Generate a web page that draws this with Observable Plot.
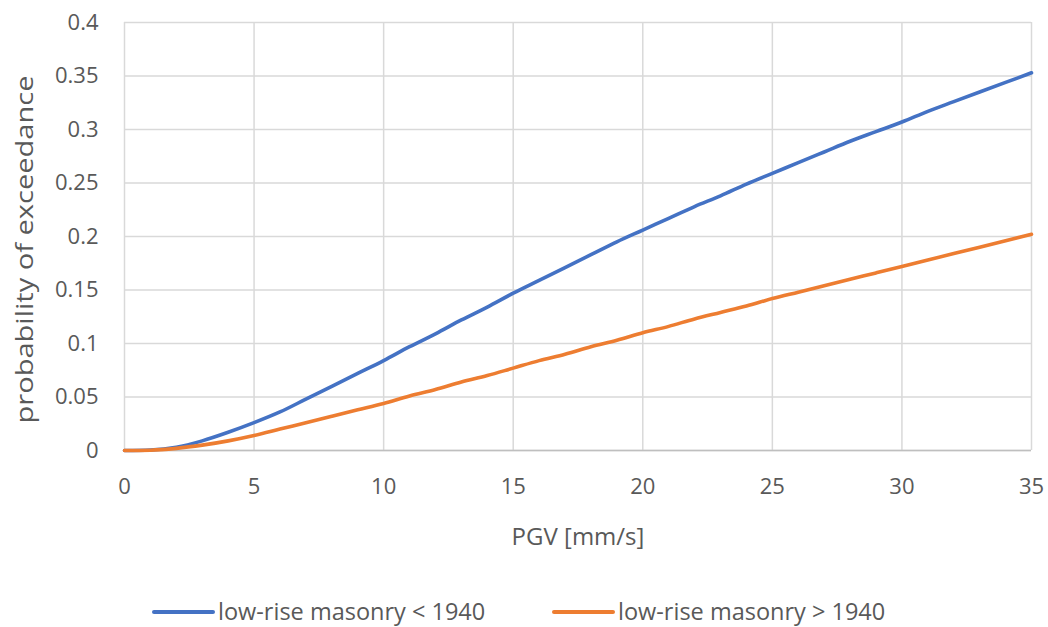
<!DOCTYPE html>
<html>
<head>
<meta charset="utf-8">
<script src="https://cdn.jsdelivr.net/npm/d3@7"></script>
<script src="https://cdn.jsdelivr.net/npm/@observablehq/plot@0.6"></script>
<style>
  body { margin: 0; background: #fff; overflow: hidden; }
  #chart { width: 1048px; }
  #chart svg g[aria-label="x-axis tick label"] text,
  #chart svg g[aria-label="y-axis tick label"] text { font-size: 22px !important; }
  #chart svg g[aria-label="x-axis tick label"],
  #chart svg g[aria-label="y-axis tick label"] { font-size: 22px !important; }
  #chart svg g[aria-label="x-axis label"],
  #chart svg g[aria-label="y-axis label"] { font-size: 24px !important; }
  .legend { position: relative; width: 1048px; height: 47px;
    font-family: "Open Sans", sans-serif; font-size: 23.5px; line-height: 24px; color: #595959; }
  .legend .item { position: absolute; top: 31px; transform: translateY(-50%); display: flex; align-items: center; white-space: nowrap; height: 24px; }
  .legend .sw { display: inline-block; width: 63px; height: 4.5px; border-radius: 2.5px; margin-right: 3px; margin-top: 2px; }
</style>
</head>
<body>
<div id="chart"></div>
<script>
const pgv = [0,1,2,3,4,5,6,7,8,9,10,11,12,13,14,15,16,17,18,19,20,21,22,23,24,25,26,27,28,29,30,31,32,33,34,35];
const pre1940 = [0,0.0005,0.003,0.009,0.017,0.026,0.036,0.048,0.060,0.072,0.084,0.097,0.109,0.122,0.134,0.147,0.159,0.171,0.183,0.195,0.206,0.217,0.228,0.238,0.249,0.259,0.269,0.279,0.289,0.298,0.307,0.317,0.326,0.335,0.344,0.353];
const post1940 = [0,0.0003,0.002,0.005,0.009,0.014,0.020,0.026,0.032,0.038,0.044,0.051,0.057,0.064,0.070,0.077,0.084,0.090,0.097,0.103,0.110,0.116,0.123,0.129,0.135,0.142,0.148,0.154,0.160,0.166,0.172,0.178,0.184,0.190,0.196,0.202];
const seriesNames = ["low-rise masonry < 1940", "low-rise masonry > 1940"];
const seriesColors = ["#4472c4", "#ed7d31"];
const xTicks = [0,5,10,15,20,25,30,35];
const yTicks = [0,0.05,0.1,0.15,0.2,0.25,0.3,0.35,0.4];
const yTickLabels = ["0","0.05","0.1","0.15","0.2","0.25","0.3","0.35","0.4"];

const data = [];
pgv.forEach((x, i) => {
  data.push({x, y: pre1940[i], s: seriesNames[0]});
  data.push({x, y: post1940[i], s: seriesNames[1]});
});

const fontFam = "'Open Sans', sans-serif";
const chart = Plot.plot({
  width: 1048,
  height: 580,
  marginLeft: 124,
  marginRight: 17,
  marginTop: 22,
  marginBottom: 130,
  style: {fontFamily: fontFam, fontSize: "22px", color: "#595959", background: "#fff"},
  x: {domain: [0, 35], ticks: xTicks, label: "PGV [mm/s]"},
  y: {domain: [0, 0.4], ticks: yTicks, label: "probability of exceedance"},
  color: {domain: seriesNames, range: seriesColors},
  marks: [
    Plot.gridX(xTicks, {stroke: "#d9d9d9", strokeOpacity: 1, strokeWidth: 1.5}),
    Plot.gridY(yTicks, {stroke: "#d9d9d9", strokeOpacity: 1, strokeWidth: 1.5}),
    Plot.ruleY([0], {stroke: "#bfbfbf", strokeWidth: 1.5}),
    Plot.axisX(xTicks, {tickSize: 0, tickPadding: 28, fontSize: 22, label: "PGV [mm/s]", labelAnchor: "center", labelArrow: "none", labelOffset: 94}),
    Plot.axisY(yTicks, {tickSize: 0, tickPadding: 26, fontSize: 22, tickFormat: (d, i) => yTickLabels[i], label: "probability of exceedance", labelAnchor: "center", labelArrow: "none", labelOffset: 109}),
    Plot.line(data, {x: "x", y: "y", stroke: "s", z: "s", strokeWidth: 3.6, curve: "monotone-x"})
  ]
});
document.getElementById("chart").appendChild(chart);

// stretch y label to reference length and shift to its centre
const yl = d3.select(chart).select('g[aria-label="y-axis label"]');
if (!yl.empty()) {
  const t0 = yl.attr("transform") || "";
  yl.attr("transform", t0 + " translate(0,13)");
  yl.selectAll("text").attr("textLength", 348).attr("lengthAdjust", "spacingAndGlyphs");
}

const legend = document.createElement("div");
legend.className = "legend";
const lefts = [152, 552];
seriesNames.forEach((n, i) => {
  const it = document.createElement("span");
  it.className = "item";
  it.style.left = lefts[i] + "px";
  const sw = document.createElement("span");
  sw.className = "sw";
  sw.style.background = seriesColors[i];
  it.appendChild(sw);
  it.appendChild(document.createTextNode(n));
  legend.appendChild(it);
});
document.body.appendChild(legend);
</script>
</body>
</html>
